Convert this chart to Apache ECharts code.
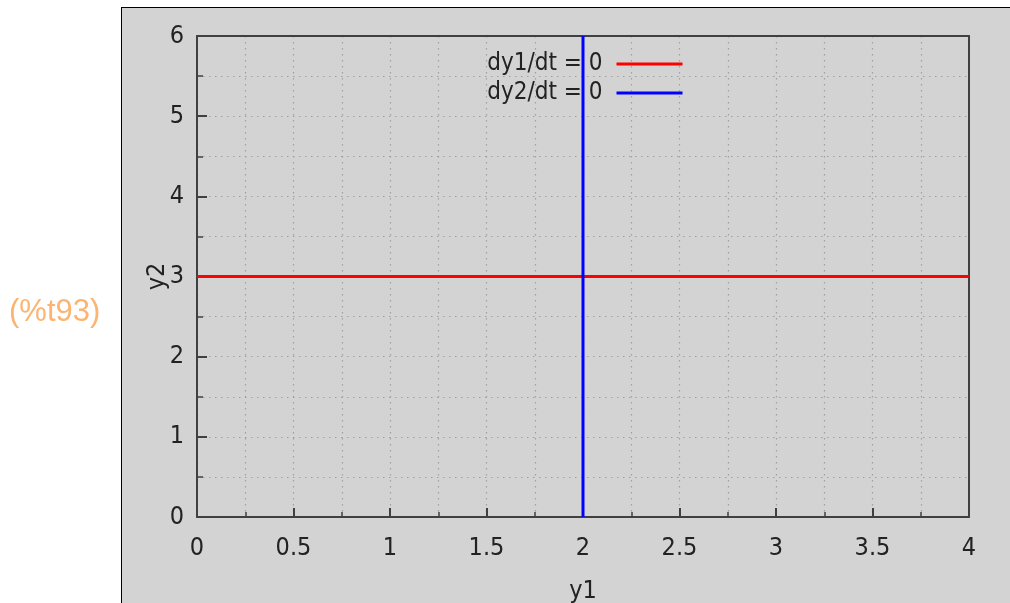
<!DOCTYPE html>
<html>
<head>
<meta charset="utf-8">
<script src="https://cdn.jsdelivr.net/npm/echarts@6/dist/echarts.min.js"></script>
<style>
  html, body { margin: 0; padding: 0; background: #ffffff; }
  #panel { position: absolute; left: 121px; top: 7px; width: 900px; height: 600px;
           background: #d3d3d3; border-left: 1px solid #000; border-top: 1px solid #000; }
  #chart { position: absolute; left: 0; top: 0; width: 1010px; height: 603px; }
</style>
</head>
<body>
<div id="panel"></div>
<div id="chart"></div>
<script>
// ---- data ----
const seriesNames = ['dy1/dt = 0', 'dy2/dt = 0'];
const dy1Nullcline = [[0, 3], [4, 3]];   // y2 = 3
const dy2Nullcline = [[2, 0], [2, 6]];   // y1 = 2
const xRange = [0, 4];
const yRange = [0, 6];
const xStep = 0.5;
const yStep = 1;
const xName = 'y1';
const yName = 'y2';
const outLabel = '(%t93)';

const FONT = '"DejaVu Sans Condensed", "DejaVu Sans", sans-serif';
const FS = 25;
const TXT = '#222222';
const AX = '#404040';
const GRIDC = '#a0a0a0';
const dotted = { color: GRIDC, type: [1.5, 4.5], width: 1.2 };

const chart = echarts.init(document.getElementById('chart'), null, { renderer: 'canvas' });
chart.setOption({
  backgroundColor: 'transparent',
  animation: false,
  grid: { left: 197, right: 41, top: 36, bottom: 86, show: false, containLabel: false, outerBoundsMode: 'none' },
  legend: {
    data: seriesNames,
    orient: 'vertical',
    align: 'right',
    right: 321,
    top: 47,
    itemWidth: 66,
    itemHeight: 14,
    itemGap: 5,
    padding: 5,
    itemStyle: { opacity: 0 },
    lineStyle: { width: 3 },
    textStyle: { fontFamily: FONT, fontSize: 24, color: TXT, padding: [0, 9, 0, 0] }
  },
  graphic: [{
    type: 'text',
    left: 9,
    top: 297,
    style: { text: outLabel, fontFamily: '"Liberation Sans", Arial, sans-serif', fontSize: 31, fill: '#fbb471' }
  }],
  xAxis: [{
    type: 'value',
    min: xRange[0], max: xRange[1], interval: xStep,
    name: xName, nameLocation: 'middle', nameGap: 62, nameMoveOverlap: false,
    nameTextStyle: { fontFamily: FONT, fontSize: FS, color: TXT },
    axisLine: { show: true, onZero: false, lineStyle: { color: AX, width: 2 } },
    axisTick: { show: true, inside: true, length: 9, lineStyle: { color: AX, width: 2 } },
    minorTick: { show: true, splitNumber: 2, length: 5, lineStyle: { color: AX, width: 1.5 } },
    axisLabel: { fontFamily: FONT, fontSize: FS, color: TXT, margin: 19,
                 formatter: v => String(v) },
    splitLine: { show: true, lineStyle: dotted },
    minorSplitLine: { show: true, lineStyle: dotted }
  }, {
    type: 'value', position: 'top',
    min: xRange[0], max: xRange[1], interval: xStep,
    axisLine: { show: true, onZero: false, lineStyle: { color: AX, width: 2 } },
    axisTick: { show: false }, axisLabel: { show: false }, splitLine: { show: false }
  }],
  yAxis: [{
    type: 'value',
    min: yRange[0], max: yRange[1], interval: yStep,
    name: yName, nameLocation: 'middle', nameGap: 27, nameRotate: 90, nameMoveOverlap: false,
    nameTextStyle: { fontFamily: FONT, fontSize: FS, color: TXT },
    axisLine: { show: true, onZero: false, lineStyle: { color: AX, width: 2 } },
    axisTick: { show: true, inside: true, length: 10, lineStyle: { color: AX, width: 2 } },
    minorTick: { show: true, splitNumber: 2, length: 6, lineStyle: { color: AX, width: 1.5 } },
    axisLabel: { fontFamily: FONT, fontSize: FS, color: TXT, margin: 13 },
    splitLine: { show: true, lineStyle: dotted },
    minorSplitLine: { show: true, lineStyle: dotted }
  }, {
    type: 'value', position: 'right',
    min: yRange[0], max: yRange[1], interval: yStep,
    axisLine: { show: true, onZero: false, lineStyle: { color: AX, width: 2 } },
    axisTick: { show: false }, axisLabel: { show: false }, splitLine: { show: false }
  }],
  series: [
    { name: seriesNames[0], type: 'line', data: dy1Nullcline, symbol: 'none', showSymbol: false,
      lineStyle: { color: '#ff0000', width: 3 }, itemStyle: { color: '#ff0000' }, z: 3 },
    { name: seriesNames[1], type: 'line', data: dy2Nullcline, symbol: 'none', showSymbol: false,
      lineStyle: { color: '#0000ff', width: 3 }, itemStyle: { color: '#0000ff' }, z: 4 }
  ]
});
</script>
</body>
</html>
